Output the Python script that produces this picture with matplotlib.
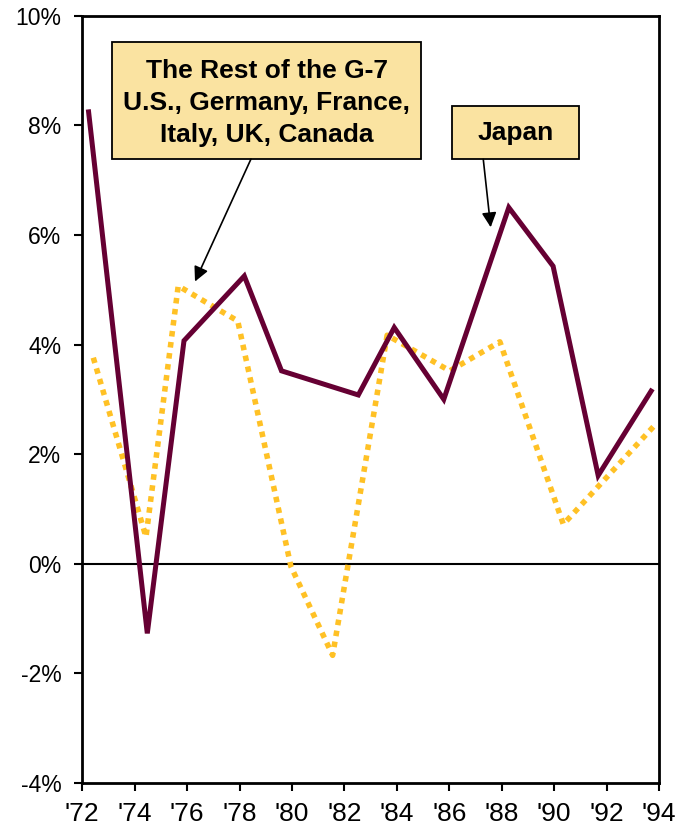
import matplotlib
matplotlib.use("Agg")
import matplotlib.pyplot as plt
from matplotlib.patches import Rectangle

# Data
japan_x = [72.23, 74.48, 75.88, 78.18, 79.60, 82.53, 83.90, 85.79, 88.27, 89.96, 91.68, 93.75]
japan_y = [8.29, -1.27, 4.07, 5.25, 3.52, 3.08, 4.31, 3.00, 6.50, 5.43, 1.61, 3.19]

rest_x = [72.42, 74.43, 75.66, 77.93, 79.96, 81.55, 83.63, 86.02, 87.93, 90.35, 93.90]
rest_y = [3.76, 0.49, 5.07, 4.43, -0.05, -1.67, 4.17, 3.52, 4.05, 0.72, 2.56]

x_ticks = [72, 74, 76, 78, 80, 82, 84, 86, 88, 90, 92, 94]
x_labels = ["'72", "'74", "'76", "'78", "'80", "'82", "'84", "'86", "'88", "'90", "'92", "'94"]
y_ticks = [-4, -2, 0, 2, 4, 6, 8, 10]
y_labels = ["-4%", "-2%", "0%", "2%", "4%", "6%", "8%", "10%"]

rest_label = "The Rest of the G-7\nU.S., Germany, France,\nItaly, UK, Canada"
japan_label = "Japan"

plt.rcParams['font.family'] = ['Liberation Sans', 'DejaVu Sans']

fig = plt.figure(figsize=(6.75, 8.3), dpi=100)
ax = fig.add_axes([0.1219, 0.0566, 0.8544, 0.9245])

ax.set_xlim(72, 94)
ax.set_ylim(-4, 10)

ax.axhline(0, color='black', lw=1.5, zorder=1)

ax.plot(rest_x, rest_y, color='#FFC125', lw=4.0, linestyle=(0, (1, 1)),
        dash_capstyle='butt', zorder=2)
ax.plot(japan_x, japan_y, color='#660033', lw=3.6, solid_joinstyle='miter',
        solid_capstyle='butt', zorder=3)

for s in ax.spines.values():
    s.set_linewidth(2.0)
    s.set_color('black')

ax.set_xticks(x_ticks)
ax.set_xticklabels(x_labels, fontfamily=['Liberation Sans Narrow', 'Liberation Sans'], fontsize=19)
ax.set_yticks(y_ticks)
ax.set_yticklabels(y_labels, fontsize=16.5)
ax.tick_params(axis='both', direction='out', length=6, width=1.5, color='black')
ax.tick_params(axis='x', pad=8)
ax.tick_params(axis='y', pad=9)

box_color = '#FAE3A1'
# Rest of G-7 box
ax.add_patch(Rectangle((0.0515, 0.8132), 0.5358, 0.1525, transform=ax.transAxes,
                       facecolor=box_color, edgecolor='black', lw=1.3, zorder=5))
ax.text(0.3197, 0.8860, rest_label, transform=ax.transAxes, ha='center', va='center',
        fontsize=19, fontweight='bold', linespacing=1.42, zorder=6)
# Japan box
ax.add_patch(Rectangle((0.6405, 0.8132), 0.2213, 0.0695, transform=ax.transAxes,
                       facecolor=box_color, edgecolor='black', lw=1.3, zorder=5))
ax.text(0.7512, 0.8470, japan_label, transform=ax.transAxes, ha='center', va='center',
        fontsize=19, fontweight='bold', zorder=6)

arrow = dict(arrowstyle='-|>', mutation_scale=22, lw=1.2, color='black',
             shrinkA=0, shrinkB=0)
ax.annotate('', xy=(76.30, 5.15), xycoords='data', xytext=(0.2925, 0.8132),
            textcoords='axes fraction', arrowprops=arrow, zorder=6)
ax.annotate('', xy=(87.58, 6.14), xycoords='data', xytext=(0.6953, 0.8128),
            textcoords='axes fraction', arrowprops=arrow, zorder=6)

fig.savefig('out.png', dpi=100)
